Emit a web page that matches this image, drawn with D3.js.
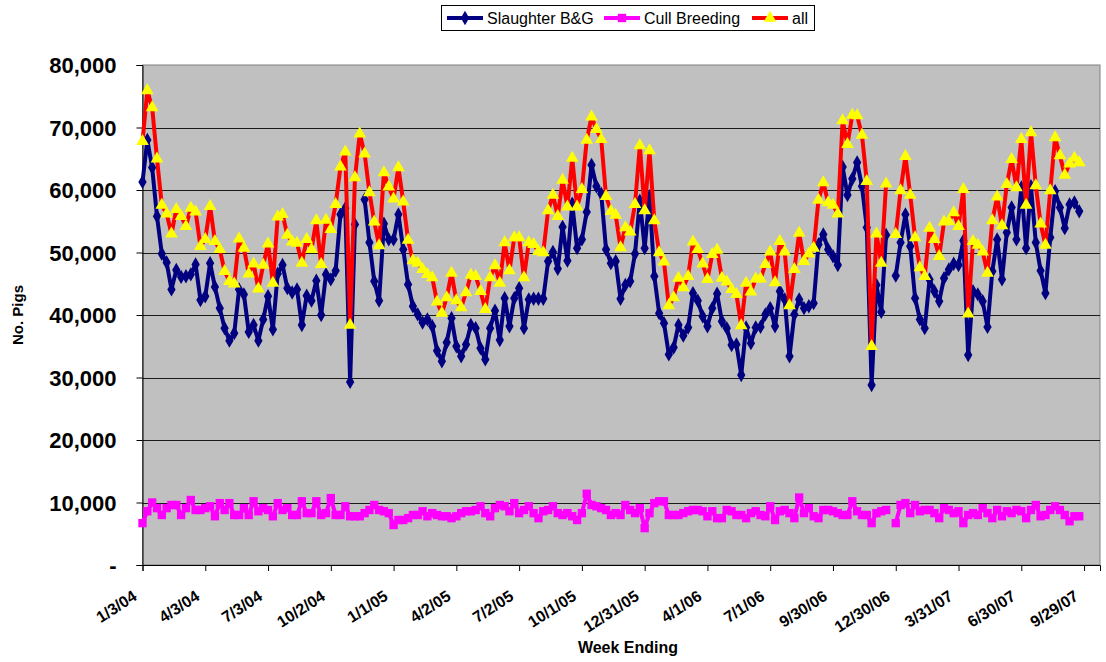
<!DOCTYPE html>
<html>
<head>
<meta charset="utf-8">
<script src="https://cdn.jsdelivr.net/npm/d3@7"></script>
<style>
  html, body { margin: 0; padding: 0; background: #fff; }
  svg text { font-family: "Liberation Sans", Arial, sans-serif; }
</style>
</head>
<body>
<div id="vis"></div>
<script>
// weekly values, in thousands of pigs (null = no data that week)
var slaughter = [61.3,68.0,63.6,55.8,49.8,48.4,44.1,47.2,46.1,46.2,46.5,48.1,42.4,43.0,48.3,44.5,41.1,37.9,35.9,37.1,
  44.1,43.3,37.3,38.4,35.9,39.3,43.0,37.7,46.6,48.0,44.3,43.6,44.1,38.4,43.1,42.3,45.5,40.0,46.5,45.7,
  47.1,56.1,57.1,29.3,54.5,null,58.5,51.6,45.4,42.3,54.6,52.1,52.1,56.1,50.5,44.9,41.4,40.1,38.8,39.3,
  38.2,34.3,32.6,35.6,39.5,35.0,33.4,35.3,38.4,37.9,34.7,32.9,37.9,40.7,36.0,42.7,38.2,42.7,44.3,37.9,
  42.5,42.6,42.6,42.6,48.6,50.1,47.4,54.1,48.7,57.8,50.7,52.1,56.5,64.0,60.6,59.4,50.5,48.3,48.6,42.6,
  44.8,45.4,49.8,58.3,50.7,59.0,46.2,40.3,38.7,33.7,34.8,38.4,36.7,38.0,43.5,42.3,39.8,38.2,41.1,43.4,
  39.0,37.9,35.2,35.3,30.4,38.0,35.5,38.0,38.1,40.1,41.1,38.2,43.8,42.5,33.4,40.1,42.5,41.1,41.4,41.9,
  51.3,52.9,50.5,49.4,48.0,63.7,59.2,61.8,64.4,60.6,54.0,28.8,44.8,40.5,52.8,null,46.3,51.6,56.1,51.0,
  42.7,39.3,37.9,45.7,43.8,42.2,45.9,47.3,48.2,48.0,51.9,33.6,43.8,43.3,42.2,38.1,47.0,52.1,45.7,53.2,
  57.2,52.1,60.4,50.7,60.6,51.6,47.1,43.5,52.4,59.8,57.2,53.9,57.7,58.0,56.6];

var cull = [6.7,8.6,10.0,9.1,8.0,9.1,9.6,9.6,8.0,9.1,10.4,8.8,8.8,9.1,9.4,7.8,9.9,8.8,9.9,8.0,
  8.0,9.1,8.0,10.2,8.6,9.1,8.8,7.8,9.9,8.8,9.1,8.0,8.0,10.2,8.3,8.3,10.2,8.0,8.3,10.7,
  8.0,8.0,9.4,7.8,7.8,7.8,8.3,8.8,9.6,8.8,8.6,8.3,6.4,7.2,7.2,7.5,8.0,8.0,8.6,7.8,
  8.3,8.0,7.8,7.8,7.5,7.8,8.3,8.6,8.6,8.8,9.4,8.3,7.8,9.1,9.6,9.4,8.6,9.9,8.3,8.8,
  9.4,8.3,7.5,8.6,8.8,9.4,8.3,8.0,8.3,7.8,7.2,8.3,11.4,9.6,9.4,9.1,8.8,8.0,8.3,8.0,
  9.6,8.8,8.3,9.1,5.9,8.3,9.9,10.2,10.2,8.0,8.0,8.0,8.3,8.6,8.8,8.8,8.6,7.8,8.6,7.5,
  7.5,8.8,8.6,8.0,8.0,7.5,8.3,8.6,8.0,7.8,9.4,7.2,8.6,8.8,8.3,7.5,10.8,8.3,9.1,7.8,
  7.5,8.8,8.8,8.6,8.3,8.0,8.0,10.2,8.6,8.0,8.0,6.7,8.3,8.6,8.8,null,6.7,9.6,9.9,8.3,
  9.6,8.6,8.8,8.8,8.3,7.5,9.1,8.8,8.3,8.6,6.7,8.0,8.3,8.0,9.1,8.3,7.5,8.8,7.8,8.6,
  8.3,8.8,8.6,7.5,8.8,9.6,7.8,8.0,8.8,9.4,8.8,8.0,7.0,7.8,7.8];

var all = [67.8,75.9,73.2,65.0,57.6,56.2,53.0,56.9,55.8,54.2,57.1,56.5,51.0,52.1,57.4,51.8,50.5,47.0,45.4,45.0,
  52.2,50.7,46.6,48.2,44.2,48.0,51.4,45.1,55.7,56.1,52.8,51.7,51.5,48.3,52.1,50.5,55.1,48.1,55.2,53.7,
  57.7,63.7,66.1,38.4,62.0,69.0,65.8,59.6,54.9,51.1,62.8,60.5,58.6,63.6,58.1,52.0,48.7,48.3,47.3,46.5,
  46.0,42.1,40.3,42.8,46.7,42.3,41.2,43.6,46.4,46.2,43.8,40.9,46.0,47.9,45.1,51.6,47.1,52.4,52.4,46.0,
  51.6,51.3,50.2,50.0,56.7,59.2,55.8,61.6,57.3,65.1,57.3,60.1,68.0,71.7,69.7,68.1,59.0,56.6,56.0,50.8,
  54.0,53.3,57.7,67.1,56.7,66.3,55.1,50.0,48.5,41.5,42.8,45.9,44.4,46.2,51.7,50.5,48.2,45.7,49.7,50.4,
  45.9,45.3,44.1,43.3,38.3,45.1,43.7,45.8,45.8,48.1,50.1,45.2,51.8,50.1,41.5,47.3,53.1,48.6,49.8,50.7,
  58.4,61.2,58.0,57.6,56.2,71.1,67.3,72.0,71.9,68.8,61.4,35.0,53.0,48.3,61.0,null,52.9,59.9,65.4,59.2,
  52.4,47.6,46.2,53.9,52.1,49.4,54.9,55.0,56.4,54.2,60.1,40.2,51.8,51.2,50.1,46.7,55.1,58.9,54.3,60.9,
  64.9,60.4,68.1,57.6,69.2,60.7,54.6,51.2,59.9,68.4,65.5,62.4,64.2,65.1,64.4];

var tickLabels = ["1/3/04","4/3/04","7/3/04","10/2/04","1/1/05","4/2/05","7/2/05","10/1/05","12/31/05",
  "4/1/06","7/1/06","9/30/06","12/30/06","3/31/07","6/30/07","9/29/07"];
var tickEvery = 13; // one label every 13 weeks
var yTicks = [0,10,20,30,40,50,60,70,80];

var W = 1106, H = 662;
var pL = 142.5, pR = 1100, pT = 65, pB = 565;

var svg = d3.select("#vis").append("svg").attr("width", W).attr("height", H);

var x = d3.scaleLinear().domain([0, 198.3]).range([pL, pR]);
var y = d3.scaleLinear().domain([0, 80]).range([pB, pT]);

// plot area
svg.append("rect")
  .attr("x", pL).attr("y", pT)
  .attr("width", pR - pL).attr("height", pB - pT)
  .attr("fill", "#c0c0c0").attr("stroke", "#808080");

svg.selectAll("line.grid").data(yTicks.filter(d => d > 0 && d < 80)).enter()
  .append("line").attr("class", "grid")
  .attr("x1", pL).attr("x2", pR)
  .attr("y1", d => Math.round(y(d)) + 0.5).attr("y2", d => Math.round(y(d)) + 0.5)
  .attr("stroke", "#1a1a1a").attr("stroke-width", 1);

// y axis
var yAxis = d3.axisLeft(y).tickValues(yTicks).tickSize(6)
  .tickFormat(d => d === 0 ? "-" : d3.format(",")(d * 1000));
var gy = svg.append("g").attr("transform", "translate(" + pL + ",0)").call(yAxis);
gy.select(".domain").attr("stroke", "#000");
gy.selectAll(".tick line").attr("stroke", "#000");
gy.selectAll(".tick text")
  .attr("x", -26).attr("dy", "0.36em")
  .style("font-size", "22px").style("font-weight", "bold").attr("fill", "#000");

// x axis
var tickIdx = tickLabels.map((t, i) => i * tickEvery);
var xAxis = d3.axisBottom(x).tickValues(tickIdx).tickSize(6)
  .tickFormat((d, i) => tickLabels[i]);
var gx = svg.append("g").attr("transform", "translate(0," + pB + ")").call(xAxis);
gx.select(".domain").attr("stroke", "#000");
gx.selectAll(".tick line").attr("stroke", "#000");
gx.selectAll(".tick text")
  .attr("y", 0).attr("dy", 0)
  .attr("text-anchor", "end")
  .attr("transform", "translate(-5,34) rotate(-33)")
  .style("font-size", "16px").style("font-weight", "bold").attr("fill", "#000");

// axis titles
svg.append("text").attr("x", 628).attr("y", 653)
  .attr("text-anchor", "middle").style("font-size", "16px").style("font-weight", "bold")
  .text("Week Ending");
svg.append("text").attr("transform", "translate(23,315) rotate(-90)")
  .attr("text-anchor", "middle").style("font-size", "15px").style("font-weight", "bold")
  .text("No. Pigs");

// series
var series = [
  {name: "Slaughter B&G", values: slaughter, color: "#000080", symbol: d3.symbolDiamond, size: 60, fill: "#000080"},
  {name: "Cull Breeding", values: cull, color: "#ff00ff", symbol: d3.symbolSquare, size: 70, fill: "#ff00ff"},
  {name: "all", values: all, color: "#ff0000", symbol: d3.symbolTriangle, size: 70, fill: "#ffff00"}
];

var line = d3.line()
  .defined(d => d != null)
  .x((d, i) => x(i))
  .y(d => y(d));

series.forEach(function(s) {
  var g = svg.append("g");
  g.append("path")
    .attr("d", line(s.values))
    .attr("fill", "none")
    .attr("stroke", s.color)
    .attr("stroke-width", 4)
    .attr("stroke-linejoin", "round");
  g.selectAll("path.m").data(s.values.map((v, i) => [i, v]).filter(d => d[1] != null))
    .enter().append("path").attr("class", "m")
    .attr("transform", d => "translate(" + x(d[0]) + "," + y(d[1]) + ")")
    .attr("d", d3.symbol().type(s.symbol).size(s.size))
    .attr("fill", s.fill);
});

// legend
var lg = svg.append("g");
lg.append("rect").attr("x", 441.5).attr("y", 5.5).attr("width", 373).attr("height", 25)
  .attr("fill", "#fff").attr("stroke", "#000");
var legendX = [447, 604, 752];
series.forEach(function(s, k) {
  var g = lg.append("g").attr("transform", "translate(" + legendX[k] + ",18)");
  g.append("line").attr("x1", 0).attr("x2", 36).attr("y1", 0).attr("y2", 0)
    .attr("stroke", s.color).attr("stroke-width", 4);
  g.append("path").attr("transform", "translate(18,0)")
    .attr("d", d3.symbol().type(s.symbol).size(s.size)).attr("fill", s.fill);
  g.append("text").attr("x", 40).attr("y", 6).style("font-size", "16px").text(s.name);
});
</script>
</body>
</html>
